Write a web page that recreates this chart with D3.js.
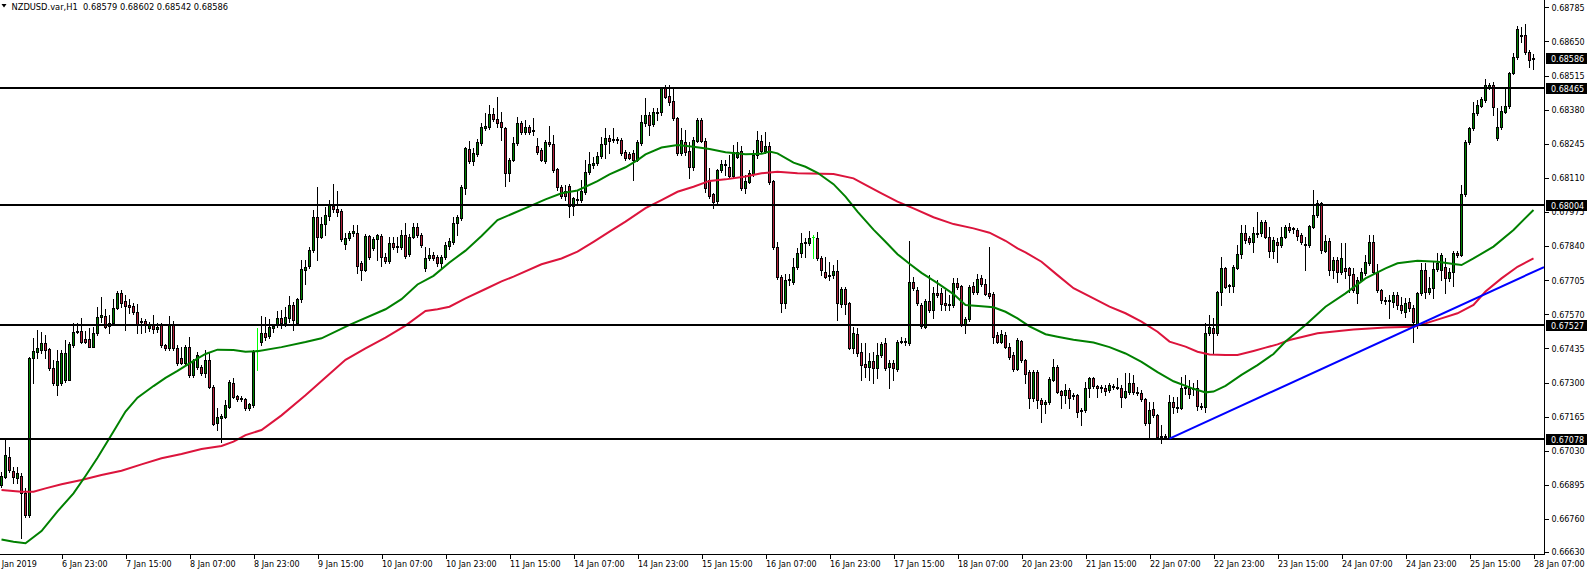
<!DOCTYPE html>
<html><head><meta charset="utf-8">
<script src="https://cdn.jsdelivr.net/npm/d3@7"></script>
<style>html,body{margin:0;padding:0;background:#fff;overflow:hidden}svg{display:block}</style>
</head><body>
<svg id="c" width="1587" height="572"></svg>
<script>
// ---------------- DATA ----------------
const title = "NZDUSD.var,H1  0.68579 0.68602 0.68542 0.68586";

const opens = [
0.66895,0.66928,0.67007,0.66951,0.66921,0.66930,0.66862,0.66776,0.67396,0.67422,0.67429,0.67455,0.67433,0.67356,0.67290,0.67297,
0.67310,0.67310,0.67448,0.67500,0.67505,0.67471,0.67471,0.67442,0.67495,0.67561,0.67564,0.67524,0.67535,0.67594,0.67656,0.67623,
0.67607,0.67603,0.67579,0.67541,0.67545,0.67514,0.67528,0.67510,0.67528,0.67448,0.67437,0.67532,0.67437,0.67396,0.67378,0.67442,
0.67330,0.67363,0.67363,0.67339,0.67389,0.67284,0.67139,0.67158,0.67165,0.67205,0.67297,0.67247,0.67234,0.67234,0.67198,0.67211,
0.67430,0.67460,0.67497,0.67484,0.67515,0.67528,0.67554,0.67534,0.67554,0.67606,0.67537,0.67629,0.67745,0.67761,0.67824,0.67956,
0.67877,0.67927,0.67959,0.68000,0.67988,0.67979,0.67847,0.67871,0.67893,0.67890,0.67774,0.67745,0.67880,0.67831,0.67867,0.67880,
0.67798,0.67781,0.67851,0.67836,0.67838,0.67883,0.67807,0.67877,0.67914,0.67884,0.67752,0.67792,0.67805,0.67798,0.67772,0.67798,
0.67840,0.67857,0.67933,0.67950,0.68069,0.68224,0.68178,0.68204,0.68247,0.68309,0.68313,0.68363,0.68342,0.68331,0.68306,0.68131,
0.68181,0.68247,0.68326,0.68290,0.68313,0.68300,0.68237,0.68220,0.68177,0.68253,0.68243,0.68144,0.68075,0.68058,0.68079,0.67999,
0.68025,0.68022,0.68055,0.68134,0.68160,0.68167,0.68197,0.68243,0.68266,0.68260,0.68262,0.68260,0.68214,0.68204,0.68210,0.68181,
0.68247,0.68326,0.68359,0.68322,0.68372,0.68369,0.68467,0.68435,0.68414,0.68348,0.68207,0.68253,0.68217,0.68154,0.68256,0.68339,
0.68256,0.68102,0.68045,0.68018,0.68141,0.68163,0.68154,0.68118,0.68194,0.68217,0.68069,0.68095,0.68124,0.68200,0.68256,0.68217,
0.68237,0.68098,0.67838,0.67719,0.67613,0.67706,0.67699,0.67759,0.67811,0.67851,0.67851,0.67875,0.67871,0.67792,0.67739,0.67725,
0.67724,0.67741,0.67611,0.67669,0.67613,0.67435,0.67491,0.67419,0.67373,0.67363,0.67386,0.67356,0.67409,0.67455,0.67363,0.67378,
0.67352,0.67462,0.67465,0.67458,0.67699,0.67666,0.67606,0.67521,0.67623,0.67587,0.67653,0.67653,0.67616,0.67609,0.67606,0.67692,
0.67682,0.67531,0.67550,0.67683,0.67659,0.67712,0.67690,0.67653,0.67650,0.67488,0.67462,0.67488,0.67442,0.67409,0.67355,0.67465,
0.67390,0.67343,0.67240,0.67343,0.67231,0.67214,0.67222,0.67310,0.67360,0.67266,0.67250,0.67270,0.67245,0.67250,0.67187,0.67191,
0.67277,0.67316,0.67285,0.67280,0.67280,0.67270,0.67286,0.67280,0.67280,0.67244,0.67264,0.67299,0.67264,0.67257,0.67235,0.67138,
0.67195,0.67171,0.67090,0.67085,0.67079,0.67224,0.67204,0.67200,0.67280,0.67280,0.67280,0.67280,0.67208,0.67204,0.67495,0.67514,
0.67495,0.67659,0.67752,0.67686,0.67683,0.67755,0.67807,0.67890,0.67870,0.67857,0.67890,0.67893,0.67934,0.67877,0.67820,0.67857,
0.67844,0.67877,0.67917,0.67906,0.67904,0.67884,0.67850,0.67843,0.67917,0.67963,0.68009,0.67822,0.67861,0.67745,0.67785,0.67739,
0.67752,0.67752,0.67728,0.67653,0.67706,0.67732,0.67772,0.67857,0.67739,0.67666,0.67627,0.67624,0.67620,0.67646,0.67607,0.67580,
0.67620,0.67594,0.67528,0.67653,0.67745,0.67660,0.67673,0.67748,0.67745,0.67759,0.67712,0.67739,0.67811,0.67805,0.68046,0.68253,
0.68306,0.68365,0.68395,0.68418,0.68471,0.68478,0.68267,0.68310,0.68372,0.68394,0.68524,0.68587,0.68671,0.68675,0.68609,0.68579];

const highs = [
0.66945,0.67073,0.67046,0.66967,0.66967,0.66941,0.66881,0.67402,0.67475,0.67508,0.67501,0.67488,0.67435,0.67389,0.67429,0.67429,
0.67468,0.67462,0.67534,0.67534,0.67554,0.67505,0.67514,0.67521,0.67600,0.67640,0.67591,0.67567,0.67629,0.67662,0.67666,0.67646,
0.67629,0.67615,0.67609,0.67554,0.67550,0.67540,0.67567,0.67535,0.67535,0.67452,0.67562,0.67545,0.67450,0.67442,0.67450,0.67481,
0.67395,0.67420,0.67370,0.67429,0.67415,0.67290,0.67198,0.67175,0.67231,0.67310,0.67317,0.67250,0.67245,0.67240,0.67220,0.67430,
0.67515,0.67563,0.67560,0.67550,0.67530,0.67583,0.67587,0.67600,0.67642,0.67620,0.67633,0.67785,0.67785,0.67838,0.67983,0.68075,
0.67956,0.67996,0.68022,0.68085,0.68059,0.67985,0.67890,0.67900,0.67923,0.67923,0.67780,0.67888,0.67884,0.67877,0.67888,0.67888,
0.67811,0.67877,0.67875,0.67877,0.67903,0.67933,0.67886,0.67930,0.67930,0.67893,0.67838,0.67831,0.67815,0.67805,0.67805,0.67855,
0.67870,0.67956,0.67963,0.68080,0.68234,0.68256,0.68227,0.68263,0.68326,0.68365,0.68398,0.68385,0.68431,0.68372,0.68313,0.68187,
0.68273,0.68352,0.68336,0.68339,0.68320,0.68345,0.68266,0.68230,0.68260,0.68316,0.68280,0.68148,0.68080,0.68082,0.68084,0.68035,
0.68062,0.68101,0.68181,0.68214,0.68194,0.68214,0.68273,0.68306,0.68280,0.68306,0.68270,0.68266,0.68220,0.68212,0.68220,0.68260,
0.68359,0.68425,0.68372,0.68385,0.68385,0.68471,0.68477,0.68477,0.68462,0.68352,0.68306,0.68299,0.68253,0.68273,0.68348,0.68348,
0.68266,0.68148,0.68050,0.68144,0.68181,0.68181,0.68200,0.68240,0.68253,0.68237,0.68121,0.68141,0.68220,0.68295,0.68280,0.68290,
0.68253,0.68100,0.67857,0.67725,0.67729,0.67729,0.67791,0.67831,0.67890,0.67870,0.67901,0.67884,0.67897,0.67801,0.67798,0.67778,
0.67765,0.67785,0.67679,0.67679,0.67620,0.67521,0.67514,0.67458,0.67455,0.67416,0.67422,0.67455,0.67462,0.67475,0.67389,0.67390,
0.67468,0.67481,0.67475,0.67861,0.67719,0.67679,0.67613,0.67630,0.67726,0.67679,0.67706,0.67673,0.67666,0.67646,0.67712,0.67712,
0.67686,0.67561,0.67686,0.67696,0.67729,0.67725,0.67708,0.67835,0.67660,0.67501,0.67507,0.67501,0.67455,0.67420,0.67475,0.67470,
0.67395,0.67350,0.67350,0.67350,0.67240,0.67230,0.67320,0.67395,0.67370,0.67270,0.67296,0.67280,0.67260,0.67255,0.67200,0.67303,
0.67323,0.67323,0.67290,0.67290,0.67290,0.67297,0.67295,0.67316,0.67290,0.67336,0.67336,0.67330,0.67283,0.67270,0.67237,0.67224,
0.67224,0.67175,0.67132,0.67095,0.67250,0.67244,0.67244,0.67323,0.67330,0.67310,0.67300,0.67310,0.67217,0.67534,0.67567,0.67554,
0.67662,0.67798,0.67758,0.67690,0.67765,0.67844,0.67923,0.67923,0.67880,0.67917,0.67976,0.67943,0.67943,0.67917,0.67877,0.67870,
0.67917,0.67923,0.67930,0.67917,0.67910,0.67890,0.67877,0.67923,0.68062,0.68022,0.68016,0.67884,0.67870,0.67795,0.67795,0.67851,
0.67851,0.67759,0.67752,0.67719,0.67752,0.67805,0.67884,0.67884,0.67770,0.67672,0.67640,0.67646,0.67660,0.67660,0.67640,0.67633,
0.67635,0.67606,0.67660,0.67772,0.67772,0.67719,0.67778,0.67811,0.67811,0.67792,0.67755,0.67820,0.67820,0.68082,0.68260,0.68313,
0.68411,0.68418,0.68431,0.68500,0.68484,0.68491,0.68385,0.68394,0.68471,0.68530,0.68603,0.68710,0.68708,0.68719,0.68616,0.68602];

const lows = [
0.66885,0.66921,0.66947,0.66901,0.66904,0.66683,0.66767,0.66767,0.67297,0.67396,0.67416,0.67396,0.67350,0.67290,0.67251,0.67290,
0.67303,0.67310,0.67442,0.67495,0.67458,0.67455,0.67439,0.67439,0.67488,0.67540,0.67514,0.67495,0.67528,0.67590,0.67600,0.67508,
0.67575,0.67572,0.67495,0.67495,0.67498,0.67505,0.67495,0.67500,0.67440,0.67430,0.67430,0.67430,0.67370,0.67372,0.67370,0.67323,
0.67320,0.67355,0.67330,0.67323,0.67280,0.67130,0.67112,0.67066,0.67158,0.67200,0.67237,0.67225,0.67225,0.67190,0.67190,0.67205,
0.67350,0.67450,0.67470,0.67475,0.67500,0.67518,0.67514,0.67525,0.67540,0.67508,0.67530,0.67620,0.67690,0.67755,0.67815,0.67785,
0.67870,0.67884,0.67943,0.67975,0.67960,0.67862,0.67827,0.67865,0.67880,0.67732,0.67706,0.67740,0.67790,0.67825,0.67785,0.67760,
0.67772,0.67772,0.67830,0.67815,0.67830,0.67792,0.67800,0.67870,0.67877,0.67838,0.67742,0.67785,0.67785,0.67760,0.67752,0.67790,
0.67830,0.67850,0.67884,0.67945,0.68046,0.68170,0.68161,0.68195,0.68240,0.68300,0.68305,0.68335,0.68310,0.68260,0.68078,0.68099,
0.68175,0.68240,0.68283,0.68283,0.68283,0.68280,0.68205,0.68175,0.68170,0.68237,0.68132,0.68062,0.68032,0.68022,0.67956,0.67963,
0.68009,0.68015,0.68048,0.68125,0.68150,0.68160,0.68190,0.68187,0.68207,0.68250,0.68247,0.68200,0.68180,0.68185,0.68102,0.68175,
0.68240,0.68315,0.68280,0.68315,0.68340,0.68360,0.68425,0.68400,0.68340,0.68200,0.68200,0.68200,0.68111,0.68140,0.68250,0.68250,
0.68055,0.68030,0.67989,0.68010,0.68135,0.68121,0.68110,0.68110,0.68187,0.68062,0.68050,0.68088,0.68118,0.68190,0.68210,0.68210,
0.68085,0.67828,0.67710,0.67580,0.67593,0.67686,0.67690,0.67750,0.67798,0.67798,0.67845,0.67792,0.67785,0.67725,0.67712,0.67706,
0.67715,0.67547,0.67600,0.67570,0.67431,0.67416,0.67405,0.67310,0.67323,0.67310,0.67297,0.67317,0.67400,0.67350,0.67277,0.67310,
0.67345,0.67455,0.67450,0.67450,0.67665,0.67605,0.67515,0.67515,0.67580,0.67554,0.67640,0.67587,0.67587,0.67587,0.67600,0.67670,
0.67525,0.67495,0.67545,0.67650,0.67650,0.67682,0.67645,0.67635,0.67458,0.67455,0.67455,0.67435,0.67395,0.67345,0.67350,0.67380,
0.67297,0.67198,0.67225,0.67198,0.67145,0.67178,0.67215,0.67305,0.67258,0.67198,0.67217,0.67198,0.67235,0.67165,0.67132,0.67185,
0.67244,0.67277,0.67244,0.67264,0.67250,0.67264,0.67275,0.67274,0.67204,0.67238,0.67255,0.67255,0.67250,0.67225,0.67130,0.67079,
0.67165,0.67079,0.67059,0.67079,0.67075,0.67178,0.67184,0.67195,0.67255,0.67240,0.67250,0.67191,0.67197,0.67184,0.67490,0.67415,
0.67490,0.67607,0.67673,0.67660,0.67660,0.67750,0.67791,0.67851,0.67850,0.67818,0.67877,0.67880,0.67870,0.67798,0.67791,0.67778,
0.67835,0.67870,0.67895,0.67890,0.67864,0.67850,0.67745,0.67835,0.67910,0.67955,0.67811,0.67815,0.67726,0.67712,0.67699,0.67730,
0.67712,0.67660,0.67660,0.67613,0.67700,0.67725,0.67765,0.67730,0.67660,0.67613,0.67610,0.67554,0.67600,0.67590,0.67575,0.67560,
0.67585,0.67462,0.67515,0.67645,0.67633,0.67650,0.67633,0.67740,0.67706,0.67653,0.67700,0.67680,0.67795,0.67800,0.68040,0.68245,
0.68300,0.68360,0.68390,0.68410,0.68460,0.68359,0.68260,0.68305,0.68365,0.68388,0.68520,0.68580,0.68649,0.68600,0.68550,0.68542];

const closes = [
0.66930,0.67013,0.66954,0.66928,0.66941,0.66862,0.66776,0.67396,0.67426,0.67435,0.67455,0.67429,0.67356,0.67297,0.67387,0.67418,
0.67418,0.67452,0.67501,0.67505,0.67462,0.67462,0.67442,0.67495,0.67561,0.67567,0.67521,0.67537,0.67594,0.67656,0.67613,0.67604,
0.67600,0.67580,0.67528,0.67545,0.67532,0.67532,0.67510,0.67520,0.67448,0.67437,0.67532,0.67437,0.67376,0.67378,0.67442,0.67330,
0.67386,0.67409,0.67339,0.67389,0.67284,0.67136,0.67165,0.67168,0.67211,0.67303,0.67244,0.67234,0.67238,0.67198,0.67214,0.67422,
0.67430,0.67497,0.67481,0.67521,0.67522,0.67554,0.67534,0.67558,0.67606,0.67547,0.67629,0.67748,0.67758,0.67824,0.67956,0.67875,
0.67927,0.67963,0.68003,0.67985,0.67976,0.67867,0.67871,0.67893,0.67898,0.67762,0.67745,0.67880,0.67796,0.67869,0.67883,0.67796,
0.67781,0.67851,0.67838,0.67842,0.67883,0.67802,0.67877,0.67914,0.67884,0.67844,0.67792,0.67805,0.67794,0.67772,0.67798,0.67844,
0.67861,0.67933,0.67954,0.68073,0.68227,0.68178,0.68207,0.68253,0.68313,0.68315,0.68363,0.68342,0.68329,0.68310,0.68131,0.68181,
0.68247,0.68326,0.68290,0.68313,0.68290,0.68295,0.68211,0.68181,0.68253,0.68243,0.68141,0.68075,0.68039,0.68039,0.67999,0.68029,
0.68022,0.68058,0.68134,0.68164,0.68167,0.68197,0.68243,0.68269,0.68256,0.68263,0.68258,0.68210,0.68190,0.68190,0.68181,0.68253,
0.68332,0.68359,0.68319,0.68372,0.68368,0.68467,0.68431,0.68411,0.68348,0.68207,0.68260,0.68214,0.68154,0.68260,0.68339,0.68256,
0.68069,0.68039,0.68016,0.68141,0.68164,0.68160,0.68118,0.68214,0.68214,0.68069,0.68098,0.68128,0.68200,0.68260,0.68217,0.68237,
0.68095,0.67838,0.67719,0.67613,0.67706,0.67709,0.67759,0.67814,0.67853,0.67855,0.67871,0.67875,0.67792,0.67745,0.67719,0.67722,
0.67741,0.67613,0.67669,0.67611,0.67435,0.67497,0.67416,0.67369,0.67363,0.67386,0.67356,0.67409,0.67452,0.67356,0.67378,0.67356,
0.67462,0.67465,0.67462,0.67699,0.67673,0.67613,0.67524,0.67623,0.67587,0.67653,0.67647,0.67611,0.67606,0.67611,0.67692,0.67679,
0.67531,0.67550,0.67679,0.67659,0.67709,0.67689,0.67650,0.67642,0.67481,0.67462,0.67491,0.67442,0.67400,0.67352,0.67469,0.67390,
0.67334,0.67240,0.67340,0.67231,0.67214,0.67222,0.67314,0.67360,0.67264,0.67250,0.67270,0.67237,0.67250,0.67184,0.67191,0.67277,
0.67316,0.67287,0.67280,0.67283,0.67266,0.67290,0.67283,0.67282,0.67244,0.67266,0.67299,0.67264,0.67260,0.67235,0.67138,0.67191,
0.67171,0.67085,0.67085,0.67090,0.67224,0.67204,0.67200,0.67280,0.67284,0.67255,0.67275,0.67208,0.67204,0.67495,0.67518,0.67495,
0.67659,0.67752,0.67679,0.67680,0.67758,0.67807,0.67890,0.67864,0.67857,0.67890,0.67893,0.67934,0.67877,0.67820,0.67864,0.67844,
0.67877,0.67917,0.67903,0.67910,0.67880,0.67858,0.67845,0.67920,0.67963,0.68009,0.67824,0.67861,0.67745,0.67785,0.67739,0.67792,
0.67743,0.67726,0.67666,0.67706,0.67739,0.67778,0.67857,0.67739,0.67666,0.67627,0.67624,0.67627,0.67646,0.67607,0.67587,0.67616,
0.67594,0.67541,0.67653,0.67745,0.67660,0.67673,0.67748,0.67772,0.67805,0.67712,0.67739,0.67811,0.67805,0.68046,0.68253,0.68306,
0.68365,0.68398,0.68421,0.68478,0.68478,0.68389,0.68313,0.68376,0.68394,0.68526,0.68587,0.68698,0.68675,0.68609,0.68577,0.68586];

// Moving averages, read at sample bars
const greenMaBars = [0,3,6,10,14,18,21,24,28,31,34,38,41,44,48,51,54,58,61,64,70,76,80,87,96,100,104,108,112,116,120,124,128,131,136,140,144,149,152,156,159,161,165,169,173,177,181,186,190,192,194,198,201,204,208,211,214,218,221,224,227,230,234,238,241,245,248,251,254,257,261,264,268,273,277,281,285,289,293,298,301,303,306,310,314,318,321,326,331,336,341,346,349,354,359,363,365,368,373,378,383];
const greenMa = [0.66679,0.66670,0.66664,0.66712,0.66790,0.66861,0.66930,0.67002,0.67106,0.67185,0.67240,0.67286,0.67318,0.67346,0.67386,0.67413,0.67430,0.67429,0.67422,0.67424,0.67440,0.67460,0.67475,0.67528,0.67590,0.67630,0.67688,0.67722,0.67775,0.67822,0.67880,0.67943,0.67970,0.67990,0.68025,0.68049,0.68060,0.68097,0.68124,0.68152,0.68180,0.68203,0.68230,0.68240,0.68233,0.68224,0.68211,0.68203,0.68205,0.68214,0.68207,0.68170,0.68154,0.68130,0.68085,0.68036,0.67976,0.67905,0.67857,0.67808,0.67770,0.67734,0.67693,0.67650,0.67607,0.67602,0.67598,0.67580,0.67554,0.67522,0.67491,0.67481,0.67469,0.67458,0.67440,0.67415,0.67382,0.67341,0.67305,0.67275,0.67261,0.67264,0.67287,0.67330,0.67369,0.67413,0.67462,0.67528,0.67600,0.67653,0.67712,0.67752,0.67772,0.67782,0.67778,0.67769,0.67765,0.67791,0.67838,0.67904,0.67983];
const redMaBars = [0,5,8,11,15,20,25,30,35,40,45,50,55,58,61,65,70,76,81,86,91,96,101,106,109,112,116,121,125,128,135,140,144,148,152,156,161,165,169,173,177,181,186,190,194,199,208,213,216,220,224,228,233,238,243,247,251,254,256,260,264,268,273,277,281,285,289,292,296,299,302,306,309,313,316,319,322,329,338,346,353,356,360,364,368,371,375,379,383];
const redMa = [0.66875,0.66868,0.66868,0.66881,0.66897,0.66914,0.66934,0.66951,0.66976,0.67000,0.67017,0.67037,0.67049,0.67066,0.67092,0.67112,0.67170,0.67250,0.67320,0.67390,0.67435,0.67478,0.67525,0.67583,0.67590,0.67600,0.67633,0.67670,0.67700,0.67719,0.67768,0.67791,0.67818,0.67857,0.67897,0.67937,0.67990,0.68022,0.68055,0.68075,0.68098,0.68104,0.68115,0.68128,0.68134,0.68128,0.68125,0.68108,0.68082,0.68049,0.68016,0.67989,0.67954,0.67927,0.67910,0.67893,0.67861,0.67831,0.67815,0.67778,0.67725,0.67673,0.67633,0.67600,0.67574,0.67541,0.67501,0.67462,0.67442,0.67422,0.67411,0.67409,0.67409,0.67425,0.67438,0.67451,0.67468,0.67495,0.67510,0.67518,0.67521,0.67534,0.67554,0.67574,0.67607,0.67660,0.67712,0.67758,0.67791];

const levels = [0.68465, 0.68004, 0.67527, 0.67078];
const lastPrice = 0.68586;
const trendBars = [292, 354];
const trendPrices = [0.67078, 0.67527];

const priceTicks = [0.68785,0.68650,0.68515,0.68380,0.68245,0.68110,0.67975,0.67840,0.67705,0.67570,0.67435,0.67300,0.67165,0.67030,0.66895,0.66760,0.66630];
const firstTimeLabel = "4 Jan 2019";
const timeTickBars = [15,31,47,63,79,95,111,127,143,159,175,191,207,223,239,255,271,287,303,319,335,351,367,383];
const timeTickLabels = ["6 Jan 23:00","7 Jan 15:00","8 Jan 07:00","8 Jan 23:00","9 Jan 15:00","10 Jan 07:00","10 Jan 23:00","11 Jan 15:00","14 Jan 07:00","14 Jan 23:00","15 Jan 15:00","16 Jan 07:00","16 Jan 23:00","17 Jan 15:00","18 Jan 07:00","20 Jan 23:00","21 Jan 15:00","22 Jan 07:00","22 Jan 23:00","23 Jan 15:00","24 Jan 07:00","24 Jan 23:00","25 Jan 15:00","28 Jan 07:00"];

// ---------------- DRAWING ----------------
const FONT = "DejaVu Sans";
const plotW = 1544, plotH = 554;
const bullColor = "#008000", bearColor = "#b0203a", dojiColor = "#00ff00";
const n = opens.length;

const svg = d3.select("#c");
const x = d3.scaleLinear().domain([0, n - 1]).range([1, 1 + 4 * (n - 1)]);
const y = d3.scaleLinear().domain([0.66630, 0.68785]).range([551.8, 7.3]);

svg.append("defs").append("clipPath").attr("id", "clip")
  .append("rect").attr("x", 0).attr("y", 0).attr("width", plotW).attr("height", plotH);

const plot = svg.append("g").attr("clip-path", "url(#clip)");

// candles
const cg = plot.append("g").attr("shape-rendering", "crispEdges");
for (let i = 0; i < n; i++) {
  const o = opens[i], c = closes[i], h = highs[i], l = lows[i];
  const cx = Math.round(x(i));
  const isDoji = o === c;
  cg.append("line")
    .attr("x1", cx + 0.5).attr("x2", cx + 0.5)
    .attr("y1", Math.round(y(h))).attr("y2", Math.round(y(l)) + 1)
    .attr("stroke", isDoji ? dojiColor : "#000").attr("stroke-width", 1);
  if (isDoji) {
    cg.append("line")
      .attr("x1", cx - 1).attr("x2", cx + 2)
      .attr("y1", Math.round(y(o)) + 0.5).attr("y2", Math.round(y(o)) + 0.5)
      .attr("stroke", dojiColor).attr("stroke-width", 1);
  } else {
    const top = Math.round(y(Math.max(o, c)));
    const bot = Math.round(y(Math.min(o, c)));
    cg.append("rect")
      .attr("x", cx - 0.5).attr("y", top + 0.5)
      .attr("width", 2).attr("height", Math.max(bot - top, 1))
      .attr("fill", c > o ? bullColor : bearColor)
      .attr("stroke", "#000").attr("stroke-width", 1);
  }
}

// moving averages
const maLine = d3.line().x(d => x(d[0]) + 0.5).y(d => y(d[1]));
plot.append("path").datum(redMaBars.map((b, i) => [b, redMa[i]]))
  .attr("d", maLine).attr("fill", "none").attr("stroke", "#dc143c").attr("stroke-width", 2);
plot.append("path").datum(greenMaBars.map((b, i) => [b, greenMa[i]]))
  .attr("d", maLine).attr("fill", "none").attr("stroke", "#008000").attr("stroke-width", 2);

// horizontal levels
plot.selectAll("line.lvl").data(levels).enter().append("line")
  .attr("class", "lvl").attr("shape-rendering", "crispEdges")
  .attr("x1", 0).attr("x2", plotW)
  .attr("y1", d => Math.round(y(d))).attr("y2", d => Math.round(y(d)))
  .attr("stroke", "#000").attr("stroke-width", 2);

// trend line (ray to the right edge)
{
  const bEnd = x.invert(plotW);
  const slope = (trendPrices[1] - trendPrices[0]) / (trendBars[1] - trendBars[0]);
  const pEnd = trendPrices[0] + slope * (bEnd - trendBars[0]);
  plot.append("line")
    .attr("x1", x(trendBars[0]) + 0.5).attr("y1", y(trendPrices[0]))
    .attr("x2", plotW).attr("y2", y(pEnd))
    .attr("stroke", "#0000ff").attr("stroke-width", 2);
}

// frame
svg.append("g").attr("shape-rendering", "crispEdges").call(g => {
  g.append("line").attr("x1", plotW + 0.5).attr("x2", plotW + 0.5).attr("y1", 0).attr("y2", plotH + 1).attr("stroke", "#000");
  g.append("line").attr("x1", 0).attr("x2", plotW + 1).attr("y1", plotH + 0.5).attr("y2", plotH + 0.5).attr("stroke", "#000");
});

// price axis
const yAxis = svg.append("g").attr("transform", `translate(${plotW + 0.5},0)`)
  .call(d3.axisRight(y).tickValues(priceTicks).tickFormat(d3.format(".5f")).tickSize(4).tickPadding(3))
  .call(g => g.select(".domain").remove());
yAxis.attr("font-family", FONT).attr("font-size", 8);
yAxis.selectAll("line").attr("shape-rendering", "crispEdges");
yAxis.selectAll("text").attr("fill", "#000").attr("dy", "0.36em");

// time axis
const xAxis = svg.append("g").attr("transform", `translate(0.5,${plotH + 0.5})`)
  .call(d3.axisBottom(x).tickValues(timeTickBars).tickFormat((d, i) => timeTickLabels[i]).tickSize(4).tickPadding(2))
  .call(g => g.select(".domain").remove());
xAxis.attr("font-family", FONT).attr("font-size", 8);
xAxis.selectAll("line").attr("shape-rendering", "crispEdges");
xAxis.selectAll("text").attr("text-anchor", "start").attr("x", 0).attr("y", 12.5).attr("dy", 0).attr("fill", "#000");
svg.append("text").attr("x", -6).attr("y", plotH + 13)
  .attr("font-family", FONT).attr("font-size", 8).attr("fill", "#000").text(firstTimeLabel);

// price boxes (levels + last price)
const boxes = levels.concat([lastPrice]);
const bg = svg.append("g");
boxes.forEach(p => {
  const yy = Math.round(y(p));
  bg.append("rect").attr("x", plotW + 2).attr("y", yy - 5).attr("width", 1587 - plotW - 2).attr("height", 11)
    .attr("fill", "#000").attr("shape-rendering", "crispEdges");
  bg.append("text").attr("x", plotW + 7).attr("y", yy + 3.5)
    .attr("font-family", FONT).attr("font-size", 8).attr("fill", "#fff").text(d3.format(".5f")(p));
});

// title
svg.append("path").attr("d", "M1.5,4 L6.5,4 L4,7.5 Z").attr("fill", "#000");
svg.append("text").attr("x", 11.5).attr("y", 9.5).attr("font-family", FONT).attr("font-size", 8.3)
  .attr("fill", "#000").attr("xml:space", "preserve").style("white-space", "pre").text(title);

// sanity check of array lengths
if (!(highs.length === n && lows.length === n && closes.length === n && greenMa.length === greenMaBars.length && redMa.length === redMaBars.length)) {
  svg.append("text").attr("x", 600).attr("y", 300).attr("fill", "red").attr("font-size", 20)
    .text(`len mismatch o${n} h${highs.length} l${lows.length} c${closes.length} g${greenMa.length}/${greenMaBars.length} r${redMa.length}/${redMaBars.length}`);
}
</script>
</body></html>
